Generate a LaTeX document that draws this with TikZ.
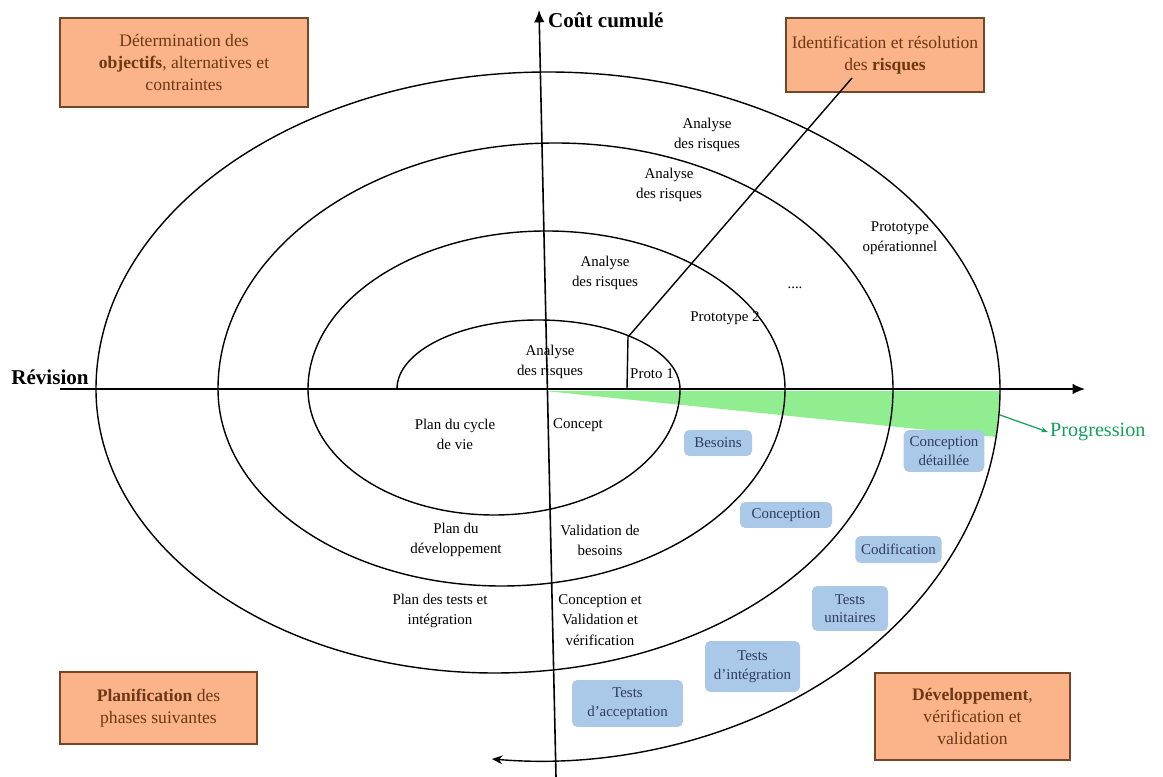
\documentclass[tikz,border=0pt]{standalone}
\usepackage{fontspec}
\setmainfont{Liberation Serif}
\usetikzlibrary{arrows.meta}
\definecolor{phasefill}{RGB}{251,180,138}
\definecolor{phaseline}{RGB}{115,70,40}
\definecolor{phasetext}{RGB}{110,55,20}
\definecolor{taskfill}{RGB}{170,200,232}
\definecolor{tasktext}{RGB}{45,60,95}
\definecolor{wedge}{RGB}{144,238,144}
\definecolor{progtext}{RGB}{20,160,90}
\tikzset{
  phase/.style={draw=phaseline, line width=1pt, fill=phasefill, text=phasetext,
    align=center, font=\fontsize{10}{12.5}\selectfont},
  task/.style={fill=taskfill, rounded corners=3pt, text=tasktext, align=center,
    font=\fontsize{8.5}{10.5}\selectfont},
  lab/.style={align=center, font=\fontsize{8.5}{11.5}\selectfont, inner sep=1pt},
  axis/.style={line width=0.9pt, -{Latex[length=7pt,width=6pt]}}
}

\begin{document}
\begin{tikzpicture}[x=0.02cm, y=0.02cm]
  \useasboundingbox (0,-388) rectangle (1163,389);

  \fill[wedge] (545,-2) -- (1000,-2) -- (996,-48) -- cycle;

  \draw[line width=0.8pt] (397,0)
    arc[start angle=180, end angle=0, x radius=141.5, y radius=69]
    arc[start angle=0, end angle=-180, x radius=186, y radius=126]
    arc[start angle=180, end angle=0, x radius=238.5, y radius=158]
    arc[start angle=0, end angle=-180, x radius=283.5, y radius=197]
    arc[start angle=180, end angle=0, x radius=337.5, y radius=246]
    arc[start angle=0, end angle=-180, x radius=398.5, y radius=284]
    arc[start angle=180, end angle=0, x radius=452, y radius=317];
  \draw[line width=0.8pt, -{Stealth[length=6pt,width=5pt]}] (1000,0)
    arc[start angle=0, end angle=-96, x radius=460, y radius=372];

  \coordinate (W) at (60,0);
  \coordinate (E) at (1085,0);
  \coordinate (S) at (556,-388);
  \coordinate (N) at (539,379);
  \draw[axis] (W) -- (E);
  \draw[axis] (S) -- (N);
  \node[anchor=west, font=\fontsize{12}{14}\selectfont\bfseries, inner sep=1pt] (cout) at (546,369) {Coût cumulé};
  \node[font=\fontsize{12}{14}\selectfont\bfseries, inner sep=1pt] (revision) at (50,12) {Révision};

  \node[phase, minimum width=4.96cm, minimum height=1.78cm] (obj) at (184,326.5)
    {Détermination des\\\textbf{objectifs}, alternatives et\\contraintes};
  \node[phase, minimum width=3.92cm, minimum height=1.48cm] (risk) at (885,334)
    {Identification et résolution\\des \textbf{risques}};
  \node[phase, minimum width=3.94cm, minimum height=1.44cm] (plan) at (158.5,-319)
    {\textbf{Planification} des\\phases suivantes};
  \node[phase, minimum width=3.9cm, minimum height=1.74cm] (dev) at (972.5,-327.5)
    {\textbf{Développement},\\vérification et\\validation};

  \coordinate (rk) at (852,311);
  \coordinate (rs) at (628,52);
  \coordinate (ra) at (627,0);
  \draw[line width=0.8pt] (rk) -- (rs) -- (ra);

  \node[lab] (risk1) at (550,27) {Analyse\\des risques};
  \node[lab] (proto1) at (652,15) {Proto 1};
  \node[lab] (risk2) at (605,116) {Analyse\\des risques};
  \node[lab] (proto2) at (725,71) {Prototype 2};
  \node[lab] (risk3) at (669,204) {Analyse\\des risques};
  \node[lab] (risk4) at (707,254) {Analyse\\des risques};
  \node[lab] (dots) at (795,101) {....};
  \node[lab] (protoop) at (900,151) {Prototype\\opérationnel};
  \node[lab] (plancv) at (455,-45) {Plan du cycle\\de vie};
  \node[lab] (concept) at (578,-36) {Concept};
  \node[lab] (plandev) at (456,-151) {Plan du\\développement};
  \node[lab] (valbes) at (600,-151) {Validation de\\besoins};
  \node[lab] (plantest) at (440,-222) {Plan des tests et\\intégration};
  \node[lab] (concval) at (600,-231) {Conception et\\Validation et\\vérification};

  \node[task, minimum width=1.36cm, minimum height=0.52cm] (besoins) at (718,-54) {Besoins};
  \node[task, minimum width=1.52cm, minimum height=0.84cm] (concdet) at (944,-62) {Conception\\détaillée};
  \node[task, minimum width=1.84cm, minimum height=0.52cm] (conc) at (786,-126) {Conception};
  \node[task, minimum width=1.66cm, minimum height=0.54cm] (codif) at (898.5,-160.5) {Codification};
  \node[task, minimum width=1.52cm, minimum height=0.9cm] (unit) at (850,-219.5) {Tests\\unitaires};
  \node[task, minimum width=1.9cm, minimum height=1.02cm] (integ) at (752.5,-277.5) {Tests\\d’intégration};
  \node[task, minimum width=2.22cm, minimum height=0.94cm] (accept) at (627.5,-314.5) {Tests\\d’acceptation};

  \coordinate (pg) at (1000,-26);
  \node[anchor=west, text=progtext, font=\fontsize{11.5}{13}\selectfont, inner sep=1pt] (prog) at (1048,-43) {Progression};
  \draw[progtext, line width=0.7pt, -{Stealth[length=4pt,width=3pt]}] (pg) -- (prog.west);
\end{tikzpicture}
\end{document}
